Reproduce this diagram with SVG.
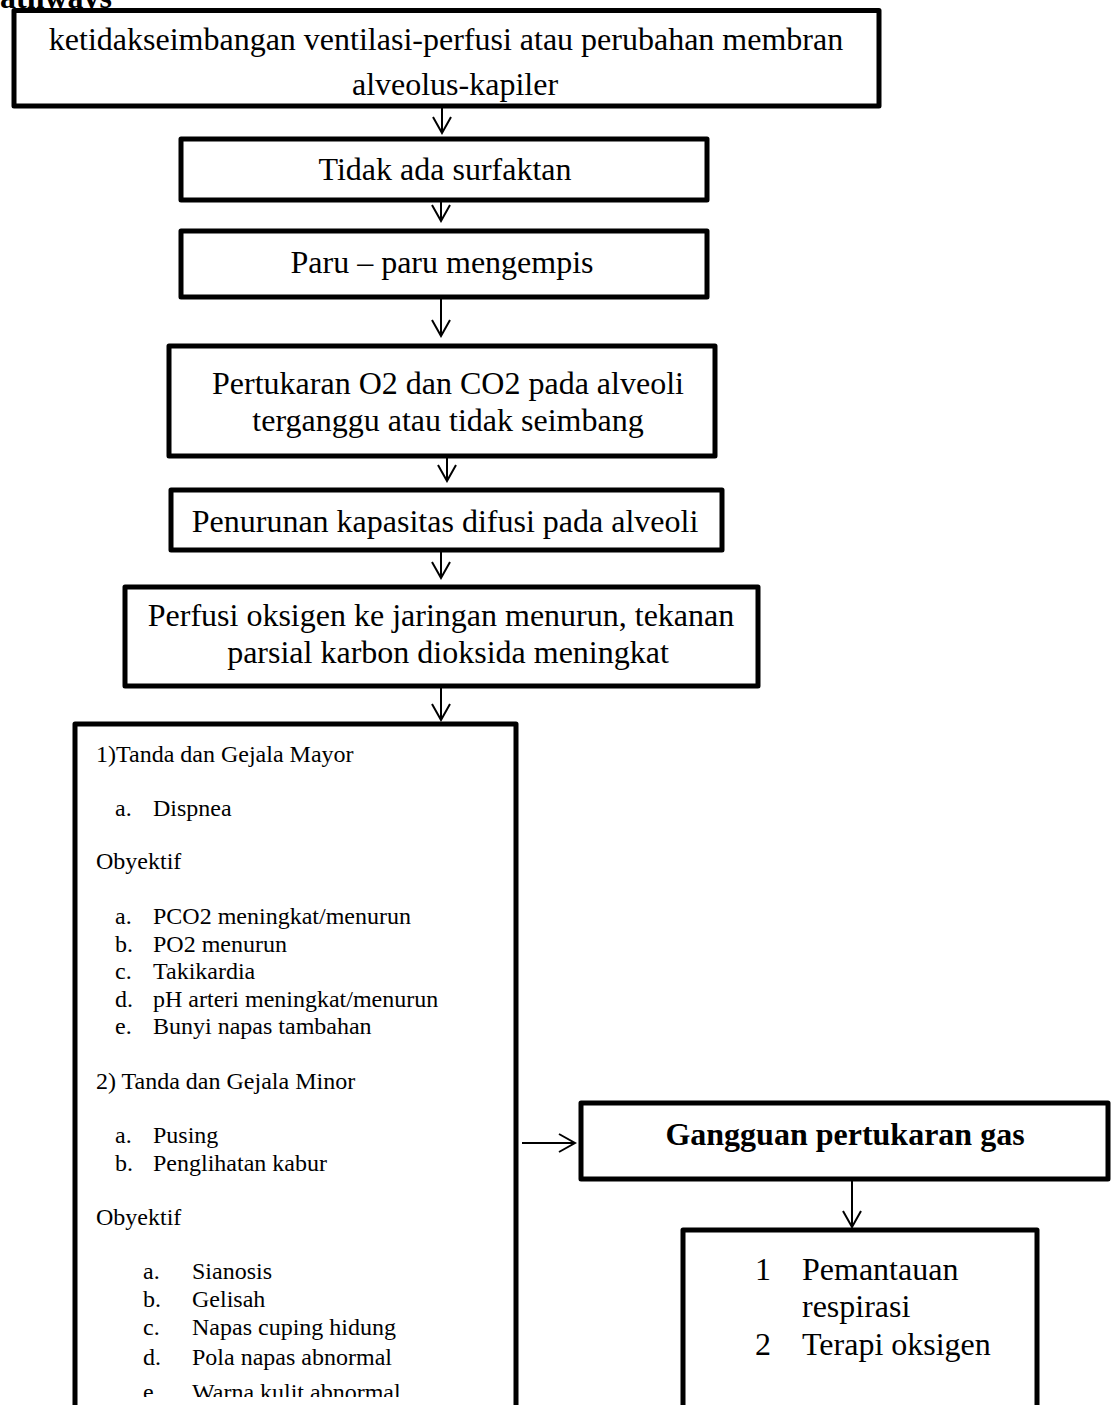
<svg xmlns="http://www.w3.org/2000/svg" width="1117" height="1405" viewBox="0 0 1117 1405">
<style>
.box{fill:#fff;stroke:#000;stroke-width:5;stroke-linejoin:round}
.t{font-family:"Liberation Serif","Times New Roman",serif;font-size:32px;fill:#000}
.c{text-anchor:middle}
.s{font-family:"Liberation Serif","Times New Roman",serif;font-size:24px;fill:#000}
.b{font-weight:bold}
.ln{stroke:#000;stroke-width:2;fill:none}
</style>
<defs>
<marker id="ah" viewBox="0 0 20 20" refX="18" refY="10" markerWidth="20" markerHeight="20" markerUnits="userSpaceOnUse" orient="auto">
<path d="M2,1 L18,10 L2,19" fill="none" stroke="#000" stroke-width="2"/>
</marker>
<clipPath id="clipBottom"><rect x="0" y="0" width="1117" height="1397"/></clipPath>
</defs>
<rect width="1117" height="1405" fill="#fff"/>
<text class="t b" x="0" y="8" font-size="24">athways</text>

<g id="n1"><rect class="box" x="14" y="10.5" width="865" height="95.5"/>
<text class="t c" x="446" y="50">ketidakseimbangan ventilasi-perfusi atau perubahan membran</text>
<text class="t c" x="455" y="95">alveolus-kapiler</text></g>

<g id="n2"><rect class="box" x="181" y="139" width="526" height="61"/>
<text class="t c" x="445" y="180">Tidak ada surfaktan</text></g>

<g id="n3"><rect class="box" x="181" y="231" width="526" height="66"/>
<text class="t c" x="442" y="273">Paru – paru mengempis</text></g>

<g id="n4"><rect class="box" x="169" y="346" width="546" height="110"/>
<text class="t c" x="448" y="394">Pertukaran O2 dan CO2 pada alveoli</text>
<text class="t c" x="448" y="431">terganggu atau tidak seimbang</text></g>

<g id="n5"><rect class="box" x="171" y="490" width="551" height="60"/>
<text class="t c" x="445" y="532">Penurunan kapasitas difusi pada alveoli</text></g>

<g id="n6"><rect class="box" x="125" y="587" width="633" height="99"/>
<text class="t c" x="441" y="626">Perfusi oksigen ke jaringan menurun, tekanan</text>
<text class="t c" x="448" y="663">parsial karbon dioksida meningkat</text></g>

<g id="n7"><rect class="box" x="75" y="724" width="441" height="700"/>
<text class="s" x="96" y="762">1)Tanda dan Gejala Mayor</text>
<text class="s" x="115" y="816">a.</text><text class="s" x="153" y="816">Dispnea</text>
<text class="s" x="96" y="869">Obyektif</text>
<text class="s" x="115" y="924">a.</text><text class="s" x="153" y="924">PCO2 meningkat/menurun</text>
<text class="s" x="115" y="952">b.</text><text class="s" x="153" y="952">PO2 menurun</text>
<text class="s" x="115" y="979">c.</text><text class="s" x="153" y="979">Takikardia</text>
<text class="s" x="115" y="1007">d.</text><text class="s" x="153" y="1007">pH arteri meningkat/menurun</text>
<text class="s" x="115" y="1034">e.</text><text class="s" x="153" y="1034">Bunyi napas tambahan</text>
<text class="s" x="96" y="1089">2) Tanda dan Gejala Minor</text>
<text class="s" x="115" y="1143">a.</text><text class="s" x="153" y="1143">Pusing</text>
<text class="s" x="115" y="1171">b.</text><text class="s" x="153" y="1171">Penglihatan kabur</text>
<text class="s" x="96" y="1225">Obyektif</text>
<text class="s" x="143" y="1279">a.</text><text class="s" x="192" y="1279">Sianosis</text>
<text class="s" x="143" y="1307">b.</text><text class="s" x="192" y="1307">Gelisah</text>
<text class="s" x="143" y="1335">c.</text><text class="s" x="192" y="1335">Napas cuping hidung</text>
<text class="s" x="143" y="1365">d.</text><text class="s" x="192" y="1365">Pola napas abnormal</text>
<g clip-path="url(#clipBottom)"><text class="s" x="143" y="1400">e.</text><text class="s" x="192" y="1400">Warna kulit abnormal</text></g>
</g>

<g id="n8"><rect class="box" x="581" y="1103" width="527" height="76"/>
<text class="t c b" x="845" y="1145">Gangguan pertukaran gas</text></g>

<g id="n9"><rect class="box" x="683" y="1230" width="354" height="200"/>
<text class="t" x="755" y="1280">1</text><text class="t" x="802" y="1280">Pemantauan</text>
<text class="t" x="802" y="1317">respirasi</text>
<text class="t" x="755" y="1355">2</text><text class="t" x="802" y="1355">Terapi oksigen</text></g>

<g id="connectors">
<line class="ln" x1="442" y1="108" x2="442" y2="133" marker-end="url(#ah)"/>
<line class="ln" x1="441" y1="202" x2="441" y2="221" marker-end="url(#ah)"/>
<line class="ln" x1="441" y1="299" x2="441" y2="336" marker-end="url(#ah)"/>
<line class="ln" x1="447" y1="458" x2="447" y2="481" marker-end="url(#ah)"/>
<line class="ln" x1="441" y1="552" x2="441" y2="578" marker-end="url(#ah)"/>
<line class="ln" x1="441" y1="688" x2="441" y2="720" marker-end="url(#ah)"/>
<line class="ln" x1="522" y1="1143" x2="575" y2="1143" marker-end="url(#ah)"/>
<line class="ln" x1="852" y1="1181" x2="852" y2="1227" marker-end="url(#ah)"/>
</g>
</svg>
